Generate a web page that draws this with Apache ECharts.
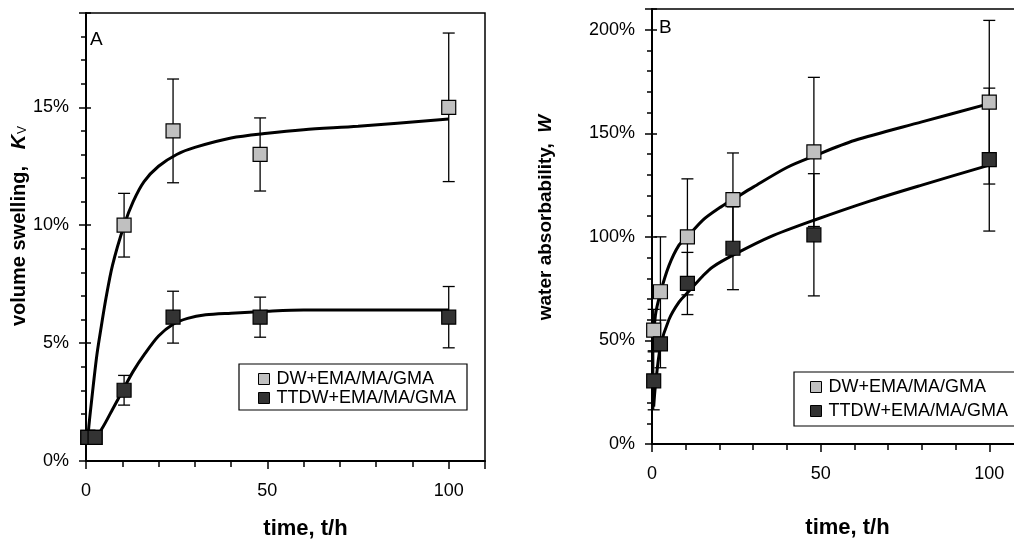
<!DOCTYPE html>
<html>
<head>
<meta charset="utf-8">
<script src="https://cdn.jsdelivr.net/npm/echarts@6/dist/echarts.min.js"></script>
<style>
  html, body { margin: 0; padding: 0; background: #fff; }
  #chart { width: 1014px; height: 539px; }
</style>
</head>
<body>
<div id="chart"></div>
<script>
// sampling times (h)
const timesA = [0.5, 2.5, 10.5, 24, 48, 100];
const timesB = [0.5, 2.5, 10.5, 24, 48, 100];

// panel A: volume swelling Kv (%)
const dwA = [1, 1, 10, 14, 13, 15];
const dwAErr = [0, 0, 1.35, 2.2, 1.55, 3.15];
const ttA = [1, 1, 3, 6.1, 6.1, 6.1];
const ttAErr = [0, 0, 0.63, 1.1, 0.85, 1.3];

// panel B: water absorbability W (%)
const dwB = [55, 73.5, 100, 118, 141, 165];
const dwBErr = [10, 26.5, 28, 22.5, 36, 39.5];
const ttB = [30.5, 48.3, 77.5, 94.5, 101, 137.3];
const ttBErr = [14, 11.5, 15, 20, 29.5, 34.5];

// fitted curves [t, value]
const curveDwA = [[0.5, 1], [1, 1.8], [1.5, 2.5], [2, 3.2], [3, 4.5], [4, 5.5], [5.5, 6.9], [7.3, 8.3], [10.5, 10], [13, 11], [16, 11.85], [20, 12.5], [25, 13.0], [30, 13.3], [40, 13.7], [50, 13.9], [60, 14.05], [75, 14.2], [100, 14.5]];
const curveTtA = [[0.5, 1], [2.5, 1], [4.5, 1.4], [7, 2.1], [10.5, 3.1], [13, 3.8], [16, 4.5], [20, 5.3], [24, 5.8], [28, 6.05], [33, 6.2], [40, 6.27], [50, 6.35], [60, 6.4], [100, 6.4]];
const curveDwB = [[0.3, 45], [1, 62], [2.5, 73], [5, 86], [8, 96], [10.5, 100], [15, 108], [20, 114], [24, 118], [30, 124], [40, 133.5], [48, 139], [60, 146.5], [80, 155.5], [100, 164.3]];
const curveTtB = [[0.5, 18], [1, 28], [2.5, 47], [5, 60], [8, 68.5], [10.8, 73.5], [15, 81], [18, 85.5], [25, 92], [35, 100], [48, 108], [65, 117.5], [80, 125], [100, 134.6]];

const names = ['DW+EMA/MA/GMA', 'TTDW+EMA/MA/GMA'];
const FONT = '"Liberation Sans", Arial, sans-serif';
const GRAY = '#c0c0c0';
const DARK = '#333333';

function errData(times, vals, errs) {
  return times.map((t, i) => [t, vals[i] - errs[i], vals[i] + errs[i], errs[i]])
    .filter(d => d[3] > 0);
}

function renderErr(params, api) {
  const x = api.value(0);
  const top = api.coord([x, api.value(2)]);
  const bot = api.coord([x, api.value(1)]);
  const w = 6;
  const st = { stroke: '#000', lineWidth: 1.3 };
  return {
    type: 'group',
    children: [
      { type: 'line', shape: { x1: top[0], y1: top[1], x2: bot[0], y2: bot[1] }, style: st },
      { type: 'line', shape: { x1: top[0] - w, y1: top[1], x2: top[0] + w, y2: top[1] }, style: st },
      { type: 'line', shape: { x1: bot[0] - w, y1: bot[1], x2: bot[0] + w, y2: bot[1] }, style: st }
    ]
  };
}

function xAxes(grid, nameGap, pad) {
  return [
    {
      gridIndex: grid, type: 'value', min: 0, max: 110, interval: 50, position: 'bottom',
      axisLine: { lineStyle: { color: '#000', width: 2 } },
      axisTick: { length: 8, lineStyle: { color: '#000', width: 1.5 } },
      axisLabel: {
        color: '#000', fontSize: 18, fontFamily: FONT, margin: 21,
        formatter: v => (v % 50 === 0 ? String(v) : '')
      },
      splitLine: { show: false },
      name: 'time, t/h', nameLocation: 'middle', nameGap: nameGap,
      nameTextStyle: { color: '#000', fontSize: 22, fontWeight: 'bold', fontFamily: FONT, padding: pad }
    },
    {
      gridIndex: grid, type: 'value', min: 0, max: 110, interval: 10, position: 'bottom',
      axisLine: { show: false },
      axisTick: { length: 6, lineStyle: { color: '#000', width: 1.5 } },
      axisLabel: { show: false },
      splitLine: { show: false }
    }
  ];
}

function yAxes(grid, max, major, minor, name, rich, nameGap, shift) {
  return [
    {
      gridIndex: grid, type: 'value', min: 0, max: max, interval: major, position: 'left',
      axisLine: { lineStyle: { color: '#000', width: 2 } },
      axisTick: { length: 7, lineStyle: { color: '#000', width: 1.5 } },
      axisLabel: {
        color: '#000', fontSize: 18, fontFamily: FONT, margin: 17,
        formatter: v => (v % major === 0 ? v + '%' : '')
      },
      splitLine: { show: false },
      name: name, nameLocation: 'middle', nameGap: nameGap,
      nameTextStyle: { rich: rich, padding: [0, 0, 0, shift] }
    },
    {
      gridIndex: grid, type: 'value', min: 0, max: max, interval: minor, position: 'left',
      axisLine: { show: false },
      axisTick: { length: 5, lineStyle: { color: '#000', width: 1.5 } },
      axisLabel: { show: false },
      splitLine: { show: false }
    },
    {
      // inner half of the major ticks (they cross the axis)
      gridIndex: grid, type: 'value', min: 0, max: max, interval: major, position: 'left',
      axisLine: { show: false },
      axisTick: { inside: true, length: 5, lineStyle: { color: '#000', width: 1.5 } },
      axisLabel: { show: false },
      splitLine: { show: false }
    }
  ];
}

const richA = {
  t: { fontSize: 20, fontWeight: 'bold', fontFamily: FONT, color: '#000' },
  k: { fontSize: 20, fontWeight: 'bold', fontStyle: 'italic', fontFamily: FONT, color: '#000' },
  s: { fontSize: 12, fontFamily: FONT, color: '#000', verticalAlign: 'bottom', padding: [6, 0, 0, 1] }
};
const richB = {
  t: { fontSize: 19, fontWeight: 'bold', fontFamily: FONT, color: '#000' },
  k: { fontSize: 19, fontWeight: 'bold', fontStyle: 'italic', fontFamily: FONT, color: '#000' }
};

function panelSeries(xi, yi, times, dw, dwErr, tt, ttErr, cDw, cTt) {
  const lineStyle = { color: '#000', width: 3 };
  return [
    { type: 'line', xAxisIndex: xi, yAxisIndex: yi, data: cDw, smooth: 0.3, showSymbol: false, lineStyle: lineStyle, z: 2, silent: true },
    { type: 'line', xAxisIndex: xi, yAxisIndex: yi, data: cTt, smooth: 0.3, showSymbol: false, lineStyle: lineStyle, z: 2, silent: true },
    { type: 'custom', xAxisIndex: xi, yAxisIndex: yi, renderItem: renderErr, data: errData(times, dw, dwErr), encode: { x: 0, y: [1, 2] }, z: 3, silent: true },
    { type: 'custom', xAxisIndex: xi, yAxisIndex: yi, renderItem: renderErr, data: errData(times, tt, ttErr), encode: { x: 0, y: [1, 2] }, z: 3, silent: true },
    { name: names[0], type: 'scatter', xAxisIndex: xi, yAxisIndex: yi, symbol: 'rect', symbolSize: 14,
      data: times.map((t, i) => [t, dw[i]]), itemStyle: { color: GRAY, borderColor: '#000', borderWidth: 1.2, opacity: 1 }, z: 4 },
    { name: names[1], type: 'scatter', xAxisIndex: xi, yAxisIndex: yi, symbol: 'rect', symbolSize: 14,
      data: times.map((t, i) => [t, tt[i]]), itemStyle: { color: DARK, borderColor: '#000', borderWidth: 1.2, opacity: 1 }, z: 5 }
  ];
}

const legendBase = {
  data: names, orient: 'vertical', selectedMode: false,
  icon: 'rect', itemWidth: 11, itemHeight: 11,
  borderColor: '#000', borderWidth: 1.2,
  itemStyle: { borderColor: '#000', borderWidth: 1 },
  textStyle: { fontSize: 18, fontFamily: FONT, color: '#000', lineHeight: 17, padding: [0, 0, 0, 2] }
};

const chart = echarts.init(document.getElementById('chart'));
chart.setOption({
  backgroundColor: '#fff',
  animation: false,
  title: [
    { text: 'A', left: 90, top: 30, padding: 0, textStyle: { fontSize: 19, fontWeight: 'normal', fontFamily: FONT, color: '#000' } },
    { text: 'B', left: 659, top: 18, padding: 0, textStyle: { fontSize: 19, fontWeight: 'normal', fontFamily: FONT, color: '#000' } }
  ],
  grid: [
    { left: 86, top: 13, width: 399, height: 448, outerBoundsMode: 'none', show: true, borderColor: '#000', borderWidth: 1.5, backgroundColor: 'transparent' },
    { left: 652, top: 9, width: 371, height: 435, outerBoundsMode: 'none', show: true, borderColor: '#000', borderWidth: 1.5, backgroundColor: 'transparent' }
  ],
  xAxis: [].concat(xAxes(0, 57, [0, 0, 0, 40]), xAxes(1, 73, [0, 0, 0, 20])),
  yAxis: [].concat(
    yAxes(0, 19, 5, 1, '{t|volume swelling,   }{k|K}{s|V}', richA, 49, 22),
    yAxes(1, 210, 50, 10, '{t|water absorbability,  }{k|W}', richB, 97, 18)
  ),
  legend: [
    Object.assign({}, legendBase, { left: 239, top: 364, itemGap: 1, padding: [6, 11, 3, 19] }),
    Object.assign({}, legendBase, { left: 794, top: 372, itemGap: 6, padding: [6, 11, 6, 16] })
  ],
  series: [].concat(
    panelSeries(0, 0, timesA, dwA, dwAErr, ttA, ttAErr, curveDwA, curveTtA),
    panelSeries(3, 3, timesB, dwB, dwBErr, ttB, ttBErr, curveDwB, curveTtB)
  )
});
</script>
</body>
</html>
